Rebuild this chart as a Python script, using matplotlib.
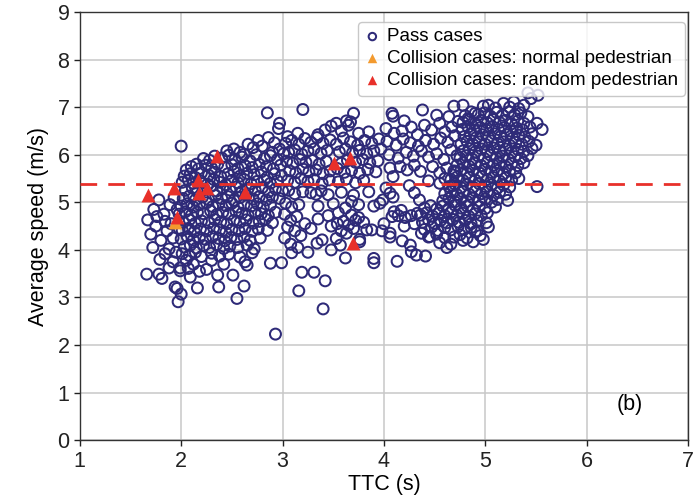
import matplotlib
matplotlib.use("Agg")
import matplotlib.pyplot as plt

# ---------------- data ----------------
pass_left_fringe = [
    (1.66,3.49),(1.78,3.49),(1.81,3.40),(1.79,3.80),(1.70,4.33),(1.67,4.63),(1.72,4.05),(1.75,4.50),
    (1.80,4.20),(1.83,4.75),(1.86,4.40),(1.88,4.02),(1.84,3.92),(1.90,4.55),(1.92,4.25),(1.95,3.95),
    (1.96,4.85),(1.89,4.95),(1.78,5.05),(1.73,4.85),(1.93,5.10),(1.98,4.45),(1.99,3.62),(2.07,3.61),
    (1.97,2.91),(2.00,3.07),(1.94,3.22),(1.96,3.19),(2.09,3.43),(2.16,3.20),(1.99,3.56),(1.92,3.75),
    (1.88,3.62),(2.05,3.78),(1.84,4.60),(1.76,4.70),(2.00,6.18),
]
pass_left_core = [
    (2.45,6.08),(2.52,6.12),(2.58,6.05),(2.66,6.22),(2.71,6.15),(2.76,6.30),(2.80,6.18),(2.86,6.36),
    (2.92,6.25),(2.97,6.12),(2.62,6.01),(2.90,6.05),
    (2.15,5.80),(2.22,5.92),(2.28,5.88),(2.33,5.97),(2.40,5.93),(2.47,5.99),(2.53,5.90),(2.60,5.95),
    (2.68,5.87),(2.74,6.00),(2.82,5.92),(2.88,5.98),(2.95,5.90),(3.01,6.02),
    (2.05,5.68),(2.10,5.75),(2.17,5.70),(2.24,5.78),(2.30,5.72),(2.36,5.80),(2.43,5.74),(2.50,5.79),
    (2.56,5.71),(2.63,5.77),(2.70,5.73),(2.77,5.80),(2.84,5.75),(2.91,5.70),(2.98,5.78),
    (2.03,5.55),(2.09,5.60),(2.14,5.52),(2.20,5.62),(2.27,5.57),(2.33,5.63),(2.39,5.54),(2.46,5.60),
    (2.52,5.65),(2.58,5.55),(2.65,5.61),(2.72,5.58),(2.79,5.64),(2.85,5.53),(2.92,5.60),(2.99,5.56),
    (2.01,5.42),(2.07,5.47),(2.12,5.40),(2.19,5.45),(2.26,5.38),(2.32,5.48),(2.38,5.42),(2.44,5.37),
    (2.50,5.46),(2.56,5.41),(2.62,5.48),(2.69,5.39),(2.75,5.44),(2.82,5.47),(2.88,5.40),(2.95,5.45),
    (2.04,5.25),(2.11,5.30),(2.16,5.22),(2.23,5.27),(2.29,5.33),(2.35,5.24),(2.41,5.30),(2.48,5.26),
    (2.54,5.32),(2.60,5.23),(2.66,5.29),(2.73,5.25),(2.80,5.31),(2.86,5.22),(2.93,5.28),(3.00,5.24),
    (2.02,5.08),(2.08,5.13),(2.14,5.05),(2.21,5.11),(2.27,5.06),(2.34,5.14),(2.40,5.08),(2.46,5.12),
    (2.52,5.04),(2.58,5.10),(2.64,5.15),(2.71,5.07),(2.77,5.12),(2.84,5.05),(2.90,5.11),(2.97,5.08),
    (2.00,4.92),(2.06,4.97),(2.12,4.90),(2.18,4.95),(2.25,4.99),(2.31,4.91),(2.37,4.96),(2.44,4.93),
    (2.50,4.98),(2.56,4.90),(2.62,4.95),(2.69,4.92),(2.75,4.97),(2.81,4.90),(2.88,4.94),
    (1.98,4.75),(2.04,4.80),(2.10,4.73),(2.16,4.79),(2.22,4.76),(2.29,4.82),(2.35,4.74),(2.41,4.79),
    (2.47,4.75),(2.54,4.81),(2.60,4.77),(2.66,4.73),(2.73,4.80),(2.79,4.76),(2.86,4.72),(2.93,4.79),
    (2.02,4.58),(2.08,4.63),(2.14,4.56),(2.20,4.61),(2.27,4.57),(2.33,4.64),(2.39,4.59),(2.45,4.55),
    (2.52,4.62),(2.58,4.58),(2.64,4.63),(2.71,4.56),(2.77,4.60),(2.83,4.65),(2.90,4.57),
    (2.01,4.41),(2.07,4.45),(2.13,4.38),(2.19,4.44),(2.25,4.40),(2.32,4.46),(2.38,4.42),(2.44,4.37),
    (2.50,4.43),(2.57,4.40),(2.63,4.45),(2.70,4.39),(2.76,4.44),(2.85,4.41),
    (2.00,4.23),(2.06,4.28),(2.12,4.21),(2.18,4.26),(2.24,4.22),(2.31,4.28),(2.37,4.24),(2.43,4.19),
    (2.49,4.26),(2.55,4.22),(2.62,4.27),(2.68,4.20),(2.78,4.25),
    (2.03,4.06),(2.09,4.10),(2.15,4.04),(2.22,4.09),(2.28,4.05),(2.35,4.11),(2.42,4.03),(2.48,4.08),
    (2.56,4.05),(2.65,4.10),(2.72,4.02),
    (2.01,3.92),(2.08,3.88),(2.14,3.95),(2.20,3.86),(2.30,3.93),(2.38,3.87),(2.47,3.91),(2.58,3.85),
    (2.70,3.94),
]
pass_left_low = [
    (2.25,3.59),(2.36,3.47),(2.51,3.47),(2.65,3.68),(2.63,3.75),(2.88,3.72),(2.99,3.73),(3.09,3.94),
    (2.37,3.22),(2.62,3.24),(2.55,2.98),(2.93,2.23),(2.12,3.70),(2.30,3.78),(2.42,3.70),(2.18,3.55),
]
pass_mid_upper = [
    (3.20,6.95),(2.97,6.66),(2.96,6.55),(3.42,6.52),(3.48,6.60),(3.53,6.66),(3.58,6.50),(3.63,6.71),
    (3.67,6.69),(3.70,6.87),(3.65,6.62),(3.15,6.45),(3.35,6.42),(3.05,6.38),(3.75,6.45),(3.85,6.48),
    (2.85,6.88),
    (3.03,6.24),(3.09,6.30),(3.16,6.22),(3.22,6.34),(3.28,6.26),(3.34,6.36),(3.40,6.24),(3.47,6.31),
    (3.53,6.22),(3.60,6.35),(3.67,6.27),(3.74,6.20),(3.81,6.30),(3.88,6.24),(3.95,6.33),
    (3.06,6.05),(3.12,6.10),(3.19,6.01),(3.25,6.08),(3.31,6.12),(3.38,6.03),(3.44,6.09),(3.56,6.06),
    (3.62,6.12),(3.69,6.04),(3.76,6.09),(3.83,6.02),(3.90,6.08),(3.97,6.12),
    (3.04,5.86),(3.10,5.82),(3.17,5.90),(3.23,5.84),(3.29,5.88),(3.36,5.80),(3.43,5.86),(3.58,5.82),
    (3.64,5.88),(3.72,5.84),(3.79,5.90),(3.86,5.83),(3.94,5.87),
    (3.07,5.66),(3.13,5.62),(3.20,5.70),(3.26,5.64),(3.33,5.68),(3.40,5.60),(3.47,5.66),(3.54,5.71),
    (3.61,5.63),(3.68,5.67),(3.76,5.61),(3.84,5.69),(3.92,5.64),
    (3.05,5.46),(3.12,5.42),(3.18,5.50),(3.25,5.44),(3.31,5.48),(3.39,5.40),(3.46,5.47),(3.55,5.43),
    (3.63,5.49),(3.72,5.41),(3.80,5.46),
]
pass_mid_lower = [
    (3.06,5.25),(3.12,5.18),(3.20,5.22),(3.28,5.20),(3.33,5.17),(3.38,5.24),(3.45,5.16),(3.58,5.21),
    (3.70,5.15),(3.85,5.22),
    (3.03,4.98),(3.09,4.90),(3.16,4.95),(3.35,4.92),(3.50,4.97),(3.62,4.88),(3.75,4.95),(3.68,5.02),
    (3.90,4.92),
    (3.02,4.75),(3.08,4.62),(3.14,4.70),(3.05,4.48),(3.12,4.40),(3.22,4.55),(3.35,4.65),(3.45,4.72),
    (3.55,4.78),(3.60,4.60),(3.65,4.52),(3.70,4.45),(3.75,4.68),(3.80,4.58),(3.58,4.40),(3.63,4.35),
    (3.72,4.62),(3.83,4.42),(3.88,4.42),(3.54,4.55),(3.68,4.73),(3.48,4.50),(3.28,4.45),
    (3.02,4.25),(3.08,4.12),(3.18,4.30),(3.34,4.14),(3.39,4.21),(3.53,4.24),(3.48,4.00),(3.57,4.10),
    (3.62,3.83),(3.76,4.17),(3.76,4.22),(3.90,3.82),(3.90,3.73),(3.25,3.95),(3.15,4.05),
    (3.16,3.14),(3.42,3.35),(3.19,3.53),(3.31,3.53),(3.40,2.76),
]
pass_mid_right = [
    (3.96,4.98),(3.99,5.05),(4.06,5.19),(4.09,5.11),(4.08,4.70),(4.14,4.72),(4.21,4.68),(4.27,4.72),
    (4.33,4.77),(4.10,4.80),(4.17,4.83),(4.06,4.35),(4.06,4.27),(4.18,4.19),(4.26,4.10),(4.27,3.96),
    (4.32,3.89),(4.41,3.87),(4.13,3.76),(4.37,4.35),(4.44,4.27),(4.00,4.55),(3.98,4.40),(4.20,4.50),
    (4.30,4.55),(4.09,5.54),(4.16,5.75),(4.23,5.68),(4.02,5.30),(4.25,5.35),(4.30,5.20),(4.35,5.05),
]
pass_right_upper = [
    (4.08,6.87),(4.09,6.81),(4.20,6.71),(4.38,6.94),(4.52,6.83),(4.64,6.80),(4.69,7.02),(4.78,7.04),
    (4.83,6.76),(4.90,6.87),
    (4.02,6.55),(4.10,6.45),(4.18,6.50),(4.27,6.58),(4.33,6.42),(4.40,6.62),(4.47,6.52),(4.55,6.66),
    (4.60,6.48),(4.67,6.58),(4.73,6.70),
    (4.03,6.28),(4.12,6.20),(4.19,6.33),(4.26,6.25),(4.34,6.18),(4.41,6.30),(4.49,6.22),(4.56,6.35),
    (4.63,6.26),(4.70,6.40),
    (4.05,6.00),(4.14,5.93),(4.22,6.05),(4.29,5.97),(4.37,6.08),(4.44,5.95),(4.52,6.02),(4.59,5.90),
    (4.66,6.10),(4.72,5.98),
    (4.06,5.72),(4.30,5.78),(4.36,5.65),(4.48,5.75),(4.55,5.62),(4.62,5.72),(4.69,5.66),
    (4.44,5.45),(4.55,5.40),(4.60,5.50),(4.68,5.35),
]
pass_right_core = [
    (4.98,7.02),(5.03,7.04),(5.10,6.98),(5.18,7.08),(5.24,7.00),(5.28,7.11),(5.33,6.97),(5.38,7.04),
    (5.45,7.18),(5.52,7.25),(5.42,7.30),
    (4.80,6.82),(4.86,6.90),(4.93,6.84),(4.99,6.88),(5.05,6.81),(5.11,6.89),(5.17,6.83),(5.23,6.90),
    (5.29,6.84),(5.35,6.88),(5.42,6.80),
    (4.78,6.68),(4.84,6.73),(4.90,6.66),(4.96,6.72),(5.02,6.67),(5.08,6.74),(5.14,6.68),(5.20,6.72),
    (5.26,6.65),(5.32,6.71),(5.38,6.66),(5.51,6.66),
    (4.77,6.53),(4.83,6.58),(4.89,6.51),(4.95,6.57),(5.01,6.52),(5.07,6.59),(5.13,6.53),(5.19,6.57),
    (5.25,6.50),(5.31,6.56),(5.37,6.52),(5.44,6.58),(5.56,6.53),
    (4.79,6.38),(4.85,6.43),(4.91,6.36),(4.97,6.42),(5.03,6.37),(5.09,6.44),(5.15,6.38),(5.21,6.42),
    (5.27,6.35),(5.33,6.41),(5.39,6.37),(5.46,6.44),
    (4.76,6.23),(4.82,6.28),(4.88,6.21),(4.94,6.27),(5.00,6.22),(5.06,6.29),(5.12,6.23),(5.18,6.27),
    (5.24,6.20),(5.30,6.26),(5.36,6.22),(5.43,6.28),(5.50,6.20),
    (4.78,6.08),(4.84,6.13),(4.90,6.06),(4.96,6.12),(5.02,6.07),(5.08,6.14),(5.14,6.08),(5.20,6.12),
    (5.26,6.05),(5.32,6.11),(5.38,6.07),(5.46,6.13),
    (4.75,5.93),(4.81,5.98),(4.87,5.91),(4.93,5.97),(4.99,5.92),(5.05,5.99),(5.11,5.93),(5.17,5.97),
    (5.23,5.90),(5.29,5.96),(5.35,5.92),(5.42,5.98),
    (4.72,5.78),(4.78,5.83),(4.84,5.76),(4.90,5.82),(4.96,5.77),(5.02,5.84),(5.08,5.78),(5.14,5.82),
    (5.20,5.75),(5.26,5.81),(5.32,5.77),(5.38,5.83),
    (4.70,5.63),(4.76,5.68),(4.82,5.61),(4.88,5.67),(4.94,5.62),(5.00,5.69),(5.06,5.63),(5.12,5.67),
    (5.18,5.60),(5.24,5.66),(5.30,5.62),
    (4.66,5.48),(4.72,5.53),(4.78,5.46),(4.84,5.52),(4.90,5.47),(4.96,5.54),(5.02,5.48),(5.08,5.52),
    (5.14,5.45),(5.20,5.51),(5.26,5.47),(5.33,5.50),
    (4.64,5.33),(4.70,5.38),(4.76,5.31),(4.82,5.37),(4.88,5.32),(4.94,5.39),(5.00,5.33),(5.06,5.37),
    (5.12,5.30),(5.18,5.36),(5.24,5.32),(5.51,5.33),
    (4.60,5.18),(4.66,5.23),(4.72,5.16),(4.78,5.22),(4.84,5.17),(4.90,5.24),(4.96,5.18),(5.02,5.22),
    (5.08,5.15),(5.14,5.21),(5.20,5.17),
    (4.58,5.03),(4.64,5.08),(4.70,5.01),(4.76,5.07),(4.82,5.02),(4.88,5.09),(4.94,5.03),(5.00,5.07),
    (5.06,5.00),(5.12,5.06),(5.22,5.04),
]
pass_right_low = [
    (4.40,4.88),(4.46,4.93),(4.52,4.86),(4.58,4.92),(4.64,4.87),(4.70,4.94),(4.76,4.88),(4.82,4.92),
    (4.88,4.85),(4.94,4.91),(5.00,4.87),(5.10,4.90),
    (4.36,4.73),(4.42,4.78),(4.48,4.71),(4.54,4.77),(4.60,4.72),(4.66,4.79),(4.72,4.73),(4.78,4.77),
    (4.84,4.70),(4.90,4.76),(4.96,4.72),(5.02,4.78),
    (4.38,4.58),(4.44,4.63),(4.50,4.56),(4.56,4.62),(4.62,4.57),(4.68,4.64),(4.74,4.58),(4.80,4.62),
    (4.86,4.55),(4.92,4.61),(5.01,4.57),
    (4.40,4.43),(4.47,4.48),(4.53,4.41),(4.60,4.47),(4.66,4.42),(4.73,4.49),(4.79,4.43),(4.86,4.47),
    (4.92,4.40),(5.03,4.48),
    (4.45,4.28),(4.52,4.33),(4.60,4.26),(4.69,4.27),(4.75,4.32),(4.82,4.25),(4.90,4.38),(4.95,4.30),
    (4.55,4.15),(4.66,4.12),(4.78,4.20),(4.88,4.17),(4.98,4.22),(4.62,4.05),
]

collision_normal_x = [1.94]
collision_normal_y = [4.59]
collision_random_x = [1.67, 1.93, 1.96, 2.35, 2.17, 2.18, 2.25, 2.63, 3.51, 3.67, 3.69]
collision_random_y = [5.15, 5.29, 4.70, 5.97, 5.47, 5.19, 5.29, 5.21, 5.83, 5.94, 4.15]

threshold_speed = 5.38
x_ticks = [1, 2, 3, 4, 5, 6, 7]
y_ticks = [0, 1, 2, 3, 4, 5, 6, 7, 8, 9]

# ---------------- plotting ----------------
plt.rcParams['font.family'] = ['Liberation Sans', 'DejaVu Sans']

all_pass = (pass_left_fringe + pass_left_core + pass_left_low + pass_mid_upper +
            pass_mid_lower + pass_mid_right + pass_right_upper + pass_right_core + pass_right_low)
pass_x = [p[0] for p in all_pass]
pass_y = [p[1] for p in all_pass]

navy = '#2e2a78'
red = '#e8302a'
orange = '#f39a2e'

fig = plt.figure(figsize=(7.0, 4.98), dpi=100)
ax = fig.add_axes([0.114, 0.116, 0.869, 0.860])

ax.scatter(pass_x, pass_y, s=62, facecolors='none', edgecolors=navy, linewidths=1.45,
           label='Pass cases', zorder=3)
ax.axhline(threshold_speed, color=red, lw=2.0, dashes=(6, 4), zorder=4)
ax.scatter(collision_normal_x, collision_normal_y, s=100, marker='^', color=orange,
           linewidths=0, label='Collision cases: normal pedestrian', zorder=5)
ax.scatter(collision_random_x, collision_random_y, s=100, marker='^', color=red,
           linewidths=0, label='Collision cases: random pedestrian', zorder=6)

ax.set_xlim(1, 7)
ax.set_ylim(0, 9)
ax.set_xticks(x_ticks)
ax.set_yticks(y_ticks)
ax.grid(True, color='#c8c8c8', lw=1.1, zorder=0)
ax.set_axisbelow(True)
ax.tick_params(direction='out', length=4, width=1, labelsize=15.5, colors='#222222')
for sp in ax.spines.values():
    sp.set_color('#333333')
    sp.set_linewidth(1.0)

ax.set_xlabel('TTC (s)', fontsize=15.5, labelpad=2)
ax.set_ylabel('Average speed (m/s)', fontsize=15.5, labelpad=6)
ax.text(6.42, 0.75, '(b)', fontsize=15.5, ha='center', va='center')

leg = ax.legend(loc='upper right', fontsize=13.5, markerscale=0.68, handlelength=0.8,
                handletextpad=0.4, borderpad=0.35, labelspacing=0.25,
                borderaxespad=0.0, frameon=True, fancybox=True, bbox_to_anchor=(0.995, 0.977))
leg.get_frame().set_edgecolor('#bbbbbb')
leg.get_frame().set_linewidth(1.0)

fig.savefig('out.png', dpi=100)
